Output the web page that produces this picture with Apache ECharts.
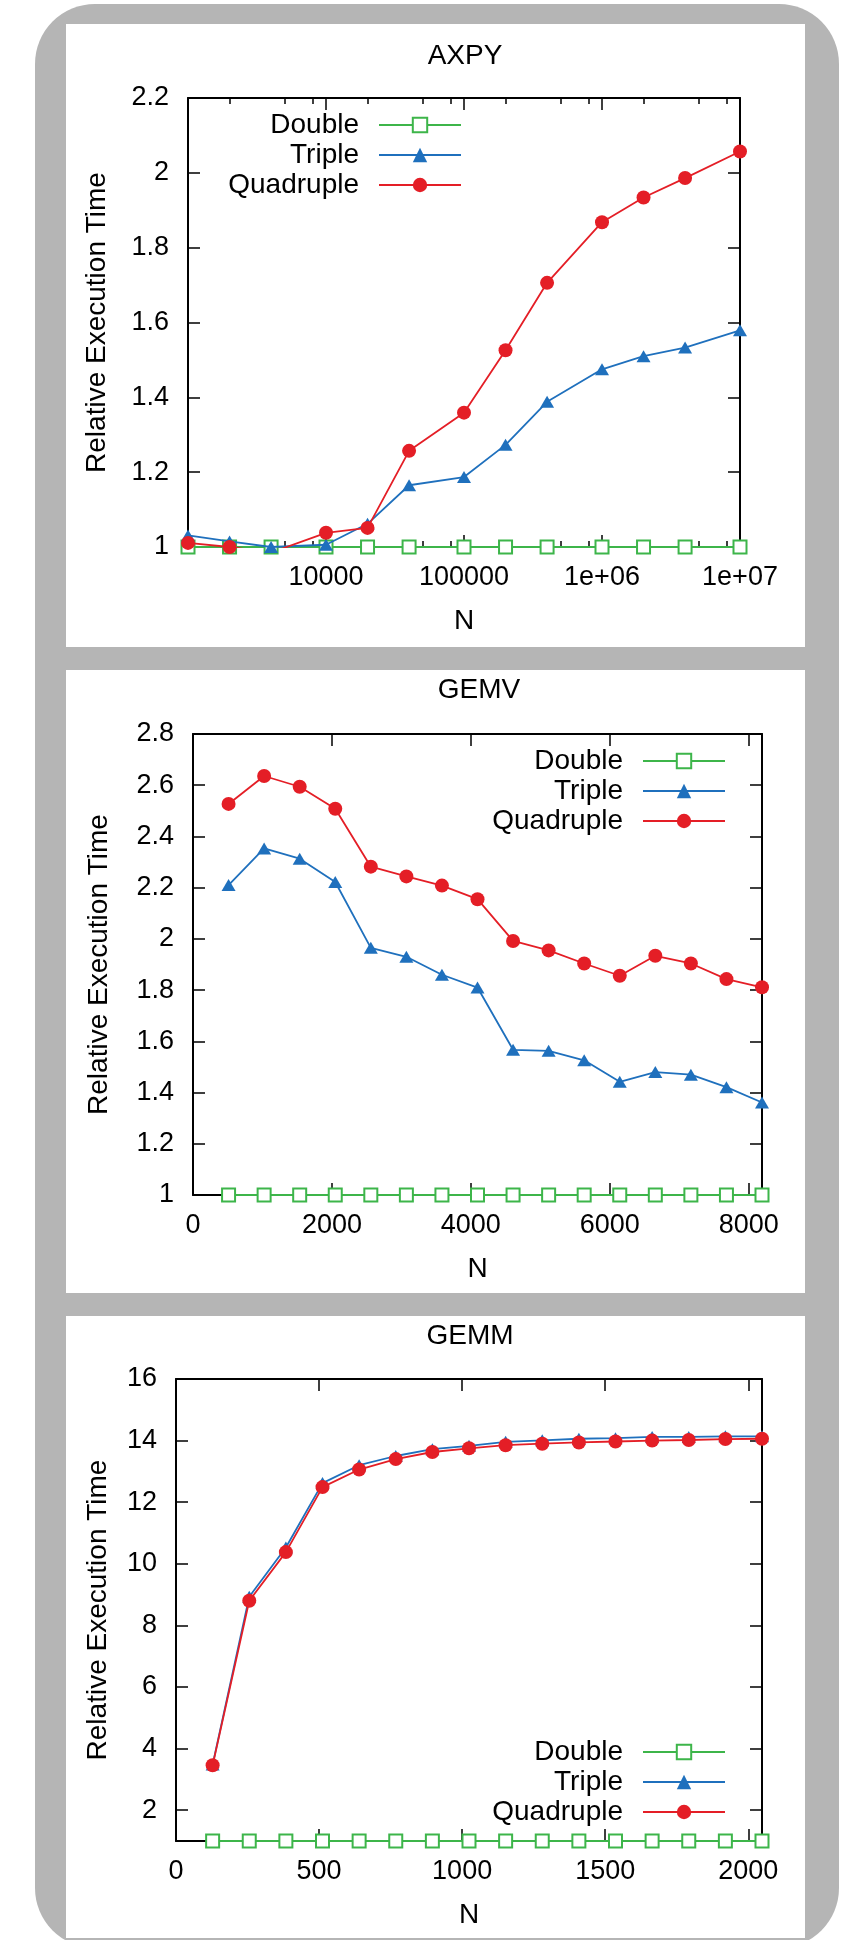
<!DOCTYPE html>
<html>
<head>
  <meta charset="UTF-8">
  <title>AXPY / GEMV / GEMM</title>
  <script src="https://cdn.jsdelivr.net/npm/echarts@6/dist/echarts.min.js"></script>
  <style>
    body { margin: 0; background: #fff; }
    #bg { position: absolute; left: 35px; top: 4px; width: 804px; height: 1944px; background: #b5b5b5; border-radius: 60px; }
    .panel { position: absolute; left: 66px; width: 739px; background: #fff; }
    #chart { position: absolute; left: 0; top: 0; width: 850px; height: 1940px; }
  </style>
</head>
<body>
  <div id="bg"></div>
  <div class="panel" style="top:24px;height:623px"></div>
  <div class="panel" style="top:670px;height:623px"></div>
  <div class="panel" style="top:1316px;height:622px"></div>
  <div id="chart"></div>
  <script>
    // series names (legend order)
    const names = ['Double', 'Triple', 'Quadruple'];

    // AXPY
    const axpyN = [1000, 2000, 4000, 10000, 20000, 40000, 100000, 200000, 400000, 1000000, 2000000, 4000000, 10000000];
    const axpyDouble = [1, 1, 1, 1, 1, 1, 1, 1, 1, 1, 1, 1, 1];
    const axpyTriple = [1.031, 1.015, 1.0, 1.006, 1.062, 1.165, 1.187, 1.273, 1.388, 1.475, 1.510, 1.533, 1.579];
    const axpyQuad = [1.011, 1.0, 0.985, 1.038, 1.051, 1.257, 1.359, 1.526, 1.706, 1.868, 1.934, 1.986, 2.057];
    const axpyXTicks = [10000, 100000, 1000000, 10000000];
    const axpyXLabels = ['10000', '100000', '1e+06', '1e+07'];
    const axpyXMinor = [2000, 5000, 8000, 20000, 50000, 80000, 200000, 500000, 800000, 2000000, 5000000, 8000000];
    const axpyYTicks = [1, 1.2, 1.4, 1.6, 1.8, 2, 2.2];

    // GEMV
    const gemvN = [512, 1024, 1536, 2048, 2560, 3072, 3584, 4096, 4608, 5120, 5632, 6144, 6656, 7168, 7680, 8192];
    const gemvDouble = [1, 1, 1, 1, 1, 1, 1, 1, 1, 1, 1, 1, 1, 1, 1, 1];
    const gemvTriple = [2.21, 2.353, 2.313, 2.222, 1.965, 1.93, 1.86, 1.81, 1.567, 1.563, 1.526, 1.442, 1.48, 1.47, 1.421, 1.361];
    const gemvQuad = [2.527, 2.636, 2.594, 2.508, 2.282, 2.244, 2.208, 2.155, 1.992, 1.955, 1.904, 1.856, 1.934, 1.904, 1.843, 1.811];
    const gemvXTicks = [0, 2000, 4000, 6000, 8000];
    const gemvYTicks = [1, 1.2, 1.4, 1.6, 1.8, 2, 2.2, 2.4, 2.6, 2.8];

    // GEMM
    const gemmN = [128, 256, 384, 512, 640, 768, 896, 1024, 1152, 1280, 1408, 1536, 1664, 1792, 1920, 2048];
    const gemmDouble = [1, 1, 1, 1, 1, 1, 1, 1, 1, 1, 1, 1, 1, 1, 1, 1];
    const gemmTriple = [3.48, 8.93, 10.53, 12.62, 13.2, 13.5, 13.72, 13.83, 13.96, 14.01, 14.06, 14.08, 14.12, 14.12, 14.14, 14.14];
    const gemmQuad = [3.46, 8.8, 10.38, 12.49, 13.06, 13.4, 13.63, 13.75, 13.85, 13.9, 13.94, 13.97, 14.0, 14.02, 14.05, 14.06];
    const gemmXTicks = [0, 500, 1000, 1500, 2000];
    const gemmYTicks = [2, 4, 6, 8, 10, 12, 14, 16];

    const font = "'Liberation Sans', Arial, sans-serif";
    const colors = ['#3db54a', '#1f70bd', '#e41e26'];
    const symbols = ['emptyRect', 'triangle', 'circle'];
    const symbolSizes = [13, [14, 12], 14];

    const plainFmt = v => String(+(+v).toFixed(6));
    const logFmt = v => {
      for (let i = 0; i < axpyXTicks.length; i++) {
        if (Math.abs(Math.log10(v) - Math.log10(axpyXTicks[i])) < 1e-6) return axpyXLabels[i];
      }
      return '';
    };

    const option = {
      animation: false,
      textStyle: { fontFamily: font },
      grid: [], xAxis: [], yAxis: [], series: [], legend: [], graphic: []
    };

    const tickStyle = { color: '#000', width: 1.5 };
    const lineStyle = { color: '#000', width: 2 };
    const labelStyle = { color: '#000', fontSize: 27, fontFamily: font };
    const nameStyle = { color: '#000', fontSize: 28, fontFamily: font };

    function addPanel(p) {
      const gi = option.grid.length;
      option.grid.push({
        left: p.grid[0], top: p.grid[1], width: p.grid[2], height: p.grid[3],
        containLabel: false, outerBoundsMode: 'none'
      });
      const xBase = {
        type: p.xType, gridIndex: gi, min: p.xMin, max: p.xMax,
        splitLine: { show: false }, minorTick: { show: false }
      };
      const xi = option.xAxis.length;
      option.xAxis.push(Object.assign({}, xBase, {
        position: 'bottom',
        name: 'N', nameLocation: 'middle', nameGap: 60,
        nameTextStyle: nameStyle,
        axisLine: { onZero: false, lineStyle: lineStyle },
        axisTick: { inside: true, length: 12, customValues: p.xTicks, lineStyle: tickStyle },
        axisLabel: Object.assign({ customValues: p.xTicks, formatter: p.xFmt, margin: 17 }, labelStyle)
      }));
      option.xAxis.push(Object.assign({}, xBase, {
        position: 'top',
        axisLine: { onZero: false, lineStyle: lineStyle },
        axisTick: { inside: true, length: 12, customValues: p.xTicks, lineStyle: tickStyle },
        axisLabel: { show: false }
      }));
      if (p.xMinor) {
        ['bottom', 'top'].forEach(pos => {
          option.xAxis.push(Object.assign({}, xBase, {
            position: pos,
            axisLine: { show: false, onZero: false },
            axisTick: { inside: true, length: 6, customValues: p.xMinor, lineStyle: tickStyle },
            axisLabel: { show: false }
          }));
        });
      }
      const yi = option.yAxis.length;
      const yBase = {
        type: 'value', gridIndex: gi, min: p.yMin, max: p.yMax,
        splitLine: { show: false }
      };
      option.yAxis.push(Object.assign({}, yBase, {
        position: 'left',
        name: 'Relative Execution Time', nameLocation: 'middle', nameGap: p.yNameGap,
        nameTextStyle: nameStyle,
        axisLine: { onZero: false, lineStyle: lineStyle },
        axisTick: { inside: true, length: 12, customValues: p.yTicks, lineStyle: tickStyle },
        axisLabel: Object.assign({ customValues: p.yTicks, formatter: plainFmt, margin: 19 }, labelStyle)
      }));
      option.yAxis.push(Object.assign({}, yBase, {
        position: 'right',
        axisLine: { onZero: false, lineStyle: lineStyle },
        axisTick: { inside: true, length: 12, customValues: p.yTicks, lineStyle: tickStyle },
        axisLabel: { show: false }
      }));

      p.values.forEach((vals, k) => {
        option.series.push({
          type: 'line', name: names[k],
          xAxisIndex: xi, yAxisIndex: yi,
          data: p.n.map((x, i) => [x, vals[i]]),
          symbol: symbols[k], symbolSize: symbolSizes[k], showSymbol: true,
          itemStyle: { color: colors[k], borderWidth: k === 0 ? 1.6 : 0 },
          lineStyle: { color: colors[k], width: 1.8 },
          emphasis: { disabled: true },
          clip: true, z: 2 + k
        });
      });

      option.legend.push({
        data: names, orient: 'vertical', align: 'right',
        right: p.legend[0], top: p.legend[1], padding: 0,
        itemWidth: 82, itemHeight: 18, itemGap: 0, selectedMode: false,
        textStyle: { color: '#000', fontSize: 28, fontFamily: font, lineHeight: 30, padding: [0, 15, 0, 0] }
      });

      option.graphic.push({
        type: 'text', x: p.title[1], y: p.title[2], silent: true,
        style: { text: p.title[0], align: 'center', verticalAlign: 'middle', fill: '#000', fontSize: 28, fontFamily: font }
      });
    }

    addPanel({
      title: ['AXPY', 465, 56],
      grid: [188, 98, 552, 449],
      xType: 'log', xMin: 1000, xMax: 10000000,
      xTicks: axpyXTicks, xMinor: axpyXMinor, xFmt: logFmt,
      yMin: 1, yMax: 2.2, yTicks: axpyYTicks, yNameGap: 77,
      n: axpyN, values: [axpyDouble, axpyTriple, axpyQuad],
      legend: [388, 110]
    });
    addPanel({
      title: ['GEMV', 479, 690],
      grid: [193, 734, 569, 461],
      xType: 'value', xMin: 0, xMax: 8192,
      xTicks: gemvXTicks, xFmt: plainFmt,
      yMin: 1, yMax: 2.8, yTicks: gemvYTicks, yNameGap: 80,
      n: gemvN, values: [gemvDouble, gemvTriple, gemvQuad],
      legend: [124, 746]
    });
    addPanel({
      title: ['GEMM', 470, 1336],
      grid: [176, 1379, 586, 462],
      xType: 'value', xMin: 0, xMax: 2048,
      xTicks: gemmXTicks, xFmt: plainFmt,
      yMin: 1, yMax: 16, yTicks: gemmYTicks, yNameGap: 64,
      n: gemmN, values: [gemmDouble, gemmTriple, gemmQuad],
      legend: [124, 1737]
    });

    const myChart = echarts.init(document.getElementById('chart'));
    myChart.setOption(option);
  </script>
</body>
</html>
